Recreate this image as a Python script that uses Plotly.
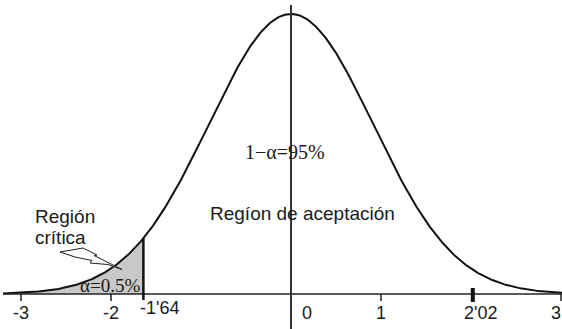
import numpy as np
import plotly.graph_objects as go

# Distribution shape (the bell is drawn with this spread in axis units)
mu = 0.0
sigma = 0.913

# Critical values shown on the axis
z_crit = -1.64
z_obs = 2.02

# Axis ticks
tick_vals = [-3, -2, z_crit, 0, 1, z_obs, 3]
tick_text = ["-3", "-2", "-1'64", "0", "1", "2'02", "3"]
tick_shift = [0, 0, 16, 16, 0, 8, -5]

# Text labels
alpha_label = "α=0.5%"
conf_label = "1−α=95%"
accept_label = "Regíon de aceptación"
crit_label_lines = ["Región", "crítica"]

W, H = 562, 329
x0_px, px_per_unit = 291, 90
base_px, peak_px = 294, 14

peak = 1.0 / (sigma * np.sqrt(2 * np.pi))
per_px = peak / (base_px - peak_px)
x_range = [-x0_px / px_per_unit, (W - x0_px) / px_per_unit]
y_range = [-(H - base_px) * per_px, peak + peak_px * per_px]


def pdf(x):
    return np.exp(-0.5 * ((x - mu) / sigma) ** 2) / (sigma * np.sqrt(2 * np.pi))


x_left, x_right = -3.2, 3.05
xs = np.linspace(x_left, x_right, 600)
ys = pdf(xs)

xs_tail = np.linspace(x_left, z_crit, 200)
ys_tail = pdf(xs_tail)

fig = go.Figure()

# shaded rejection tail
fig.add_trace(go.Scatter(
    x=np.concatenate([xs_tail, [z_crit, x_left]]),
    y=np.concatenate([ys_tail, [0, 0]]),
    fill="toself", fillcolor="#c8c8c8", line=dict(width=0),
    mode="lines", hoverinfo="skip", showlegend=False,
))

# density curve
fig.add_trace(go.Scatter(
    x=xs, y=ys, mode="lines", line=dict(color="#111111", width=2),
    hoverinfo="skip", showlegend=False,
))

shapes = []
# horizontal axis
shapes.append(dict(type="line", xref="x", yref="y", x0=x_left, x1=x_right,
                   y0=0, y1=0, line=dict(color="#222222", width=1.5)))
# central vertical line
shapes.append(dict(type="line", xref="x", yref="paper", x0=0, x1=0,
                   y0=0, y1=1 - 5 / H, line=dict(color="#333333", width=2)))
# critical value boundary
shapes.append(dict(type="line", xref="x", yref="y", x0=z_crit, x1=z_crit,
                   y0=-6 * per_px, y1=float(pdf(z_crit)),
                   line=dict(color="#111111", width=2.5)))
# regular tick marks
for v in [-3, -2, 1, 3]:
    shapes.append(dict(type="line", xref="x", yref="y", x0=v, x1=v,
                       y0=0, y1=-7 * per_px, line=dict(color="#222222", width=1.5)))
# observed statistic mark
shapes.append(dict(type="line", xref="x", yref="y", x0=z_obs, x1=z_obs,
                   y0=6 * per_px, y1=-8 * per_px, line=dict(color="#111111", width=4)))

# lightning-bolt pointer (pixel outline)
bolt_px = [(60, 252), (83, 248), (97, 255), (94, 255.5), (107, 262), (122, 269.5),
           (108, 264.5), (90, 263), (92, 260.5), (75, 257)]
path = "M " + " L ".join(f"{px / W:.4f},{1 - py / H:.4f}" for px, py in bolt_px) + " Z"
shapes.append(dict(type="path", xref="paper", yref="paper", path=path,
                   fillcolor="white", line=dict(color="#222222", width=1)))

annotations = []
sans = "Liberation Sans, Arial, sans-serif"
serif = "Liberation Serif, Times New Roman, serif"
for v, t, s in zip(tick_vals, tick_text, tick_shift):
    yoff = 14 if t == "-1'64" else 19
    annotations.append(dict(x=v, y=0, xref="x", yref="y", text=t, showarrow=False,
                            xanchor="center", yanchor="middle", xshift=s, yshift=-yoff,
                            font=dict(family=sans, size=18, color="#1a1a1a")))

annotations.append(dict(x=(285 - x0_px) / px_per_unit, y=(base_px - 152) * per_px,
                        xref="x", yref="y", text=conf_label, showarrow=False,
                        xanchor="center", yanchor="middle",
                        font=dict(family=serif, size=20, color="#1a1a1a")))
annotations.append(dict(x=(208 - x0_px) / px_per_unit, y=(base_px - 213) * per_px,
                        xref="x", yref="y", text=accept_label, showarrow=False,
                        xanchor="left", yanchor="middle",
                        font=dict(family=sans, size=19, color="#1a1a1a")))
for i, line in enumerate(crit_label_lines):
    annotations.append(dict(x=(33 - x0_px) / px_per_unit, y=(base_px - 216 - 21 * i) * per_px,
                            xref="x", yref="y", text=line, showarrow=False,
                            xanchor="left", yanchor="middle",
                            font=dict(family=sans, size=19, color="#1a1a1a")))
annotations.append(dict(x=z_crit, y=(base_px - 285) * per_px, xref="x", yref="y",
                        text=alpha_label, showarrow=False, xanchor="right", yanchor="middle",
                        xshift=-1,
                        font=dict(family=serif, size=19, color="#1a1a1a")))

fig.update_layout(
    width=W, height=H, margin=dict(l=0, r=0, t=0, b=0),
    paper_bgcolor="white", plot_bgcolor="white",
    xaxis=dict(range=x_range, visible=False, fixedrange=True),
    yaxis=dict(range=y_range, visible=False, fixedrange=True),
    shapes=shapes, annotations=annotations, showlegend=False,
)

fig.write_html("out.html")
